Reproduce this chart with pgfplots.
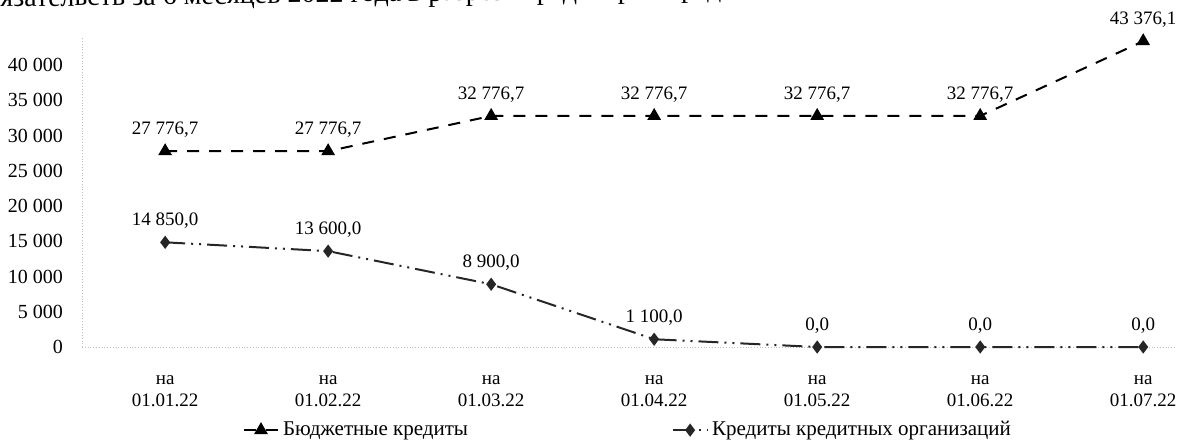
\documentclass[border=0pt]{standalone}
\usepackage{fontspec}
\setmainfont{Liberation Serif}
\usepackage{pgfplots}
\pgfplotsset{compat=1.18}
\begin{document}
\begin{tikzpicture}
\useasboundingbox (0,0) rectangle (590.5pt,220.5pt);
\clip (0,0) rectangle (590.5pt,220.5pt);
\node[anchor=base west, inner sep=0, rotate=0.8, font=\fontsize{14}{16}\selectfont] at (0pt,217pt) {\llap{об}язательств за 6 месяцев 2022 года в разрезе кредиторов представлена на рисунке};
\begin{axis}[
  at={(41pt,47pt)}, anchor=south west,
  scale only axis, width=546.9pt, height=155.1pt,
  xmin=-0.51, xmax=6.2, ymin=0, ymax=44000,
  clip=false,
  scaled y ticks=false,
  axis x line*=bottom, axis y line*=left,
  axis line style={gray!50, densely dotted, -},
  major tick length=0pt,
  xtick={0,...,6},
  xticklabels={{на\\01.01.22},{на\\01.02.22},{на\\01.03.22},{на\\01.04.22},{на\\01.05.22},{на\\01.06.22},{на\\01.07.22}},
  xticklabel style={align=center, font=\fontsize{9.5}{11}\selectfont, yshift=-11pt},
  ytick={0,5000,10000,15000,20000,25000,30000,35000,40000},
  yticklabels={0,5 000,10 000,15 000,20 000,25 000,30 000,35 000,40 000},
  yticklabel style={font=\fontsize{10}{12}\selectfont, xshift=-6pt},
  nodes near coords, point meta=explicit symbolic,
  every node near coord/.append style={font=\fontsize{9.5}{11}\selectfont, yshift=3pt, text=black},
  legend columns=2,
  legend style={at={(0.5,0)}, anchor=north, yshift=-33pt, draw=none, fill=none,
    font=\fontsize{10.5}{12}\selectfont,
    /tikz/every even column/.append style={column sep=100pt}},
]
\addplot[black, line width=1pt, dash pattern=on 6pt off 5pt, mark=triangle*, mark size=3pt, mark options={solid}]
coordinates {
 (0,27776.7) [27 776,7]
 (1,27776.7) [27 776,7]
 (2,32776.7) [32 776,7]
 (3,32776.7) [32 776,7]
 (4,32776.7) [32 776,7]
 (5,32776.7) [32 776,7]
 (6,43376.1) [43 376,1]
};
\addlegendentry{Бюджетные кредиты}
\addplot[black!85, line width=1pt, dash pattern=on 10pt off 3pt on 1pt off 3pt on 1pt off 3pt, mark=diamond*, mark size=2.5pt, mark options={solid}]
coordinates {
 (0,14850) [14 850,0]
 (1,13600) [13 600,0]
 (2,8900) [8 900,0]
 (3,1100) [1 100,0]
 (4,0) [0,0]
 (5,0) [0,0]
 (6,0) [0,0]
};
\addlegendentry{Кредиты кредитных организаций}
\end{axis}
\end{tikzpicture}
\end{document}
